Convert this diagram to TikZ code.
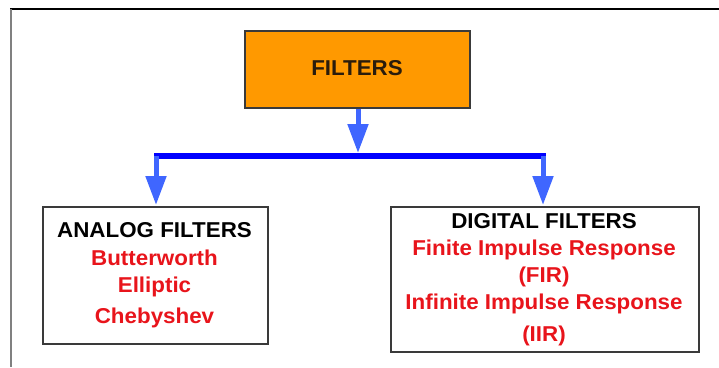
\documentclass[tikz,border=0pt]{standalone}
\usepackage{fontspec}
\setmainfont{Liberation Sans}
\usetikzlibrary{arrows.meta}
\definecolor{boxorange}{HTML}{FF9900}
\definecolor{edgegray}{HTML}{3A3A3A}
\definecolor{framegray}{HTML}{808080}
\definecolor{barblue}{HTML}{0000FF}
\definecolor{arrowblue}{HTML}{3F66FF}
\definecolor{itemred}{HTML}{E8141B}
\definecolor{titledark}{HTML}{2A1C0C}
\begin{document}
\begin{tikzpicture}[x=1pt,y=-1pt,
  panel/.style={draw=edgegray,line width=1.5pt,inner sep=0pt,anchor=north west},
  heading/.style={font=\fontsize{21.5}{25}\selectfont\bfseries,text=black,anchor=base,inner sep=0pt,xscale=1.04},
  item/.style={font=\fontsize{21.5}{25}\selectfont\bfseries,text=itemred,anchor=base,inner sep=0pt,xscale=1.04},
  flow/.style={draw=arrowblue,line width=5pt,-{Triangle[width=20pt,length=29pt]}},
  bus/.style={draw=barblue,line width=6pt}]
  \useasboundingbox (0,0) rectangle (719,367);
  % outer frame
  \draw[black,line width=1.5pt] (10,9) -- (719,9);
  \draw[framegray,line width=2pt] (10.5,9) -- (10.5,367);

  % root box
  \node[panel,fill=boxorange,minimum width=225pt,minimum height=77pt] (filters) at (244,30) {};
  \node[heading,text=titledark] (filtersText) at (357,75) {FILTERS};

  % child boxes
  \node[panel,minimum width=225pt,minimum height=137pt] (analog) at (42,206) {};
  \node[panel,minimum width=308pt,minimum height=145pt] (digital) at (390,206) {};

  % analog contents
  \node[heading] (analogTitle) at (154.5,237) {ANALOG FILTERS};
  \node[item] (butter) at (154.5,265) {Butterworth};
  \node[item] (ellip) at (154.5,292) {Elliptic};
  \node[item] (cheby) at (154.5,323) {Chebyshev};

  % digital contents
  \node[heading] (digitalTitle) at (544,228) {DIGITAL FILTERS};
  \node[item] (fir) at (544,255) {Finite Impulse Response};
  \node[item] (firAbbr) at (544,282) {(FIR)};
  \node[item] (iir) at (544,309) {Infinite Impulse Response};
  \node[item] (iirAbbr) at (544,341) {(IIR)};

  % distribution bus
  \coordinate (barL) at (154,156);
  \coordinate (barM) at (358,153);
  \coordinate (barR) at (546,156);
  \draw[bus] (barL) -- (barR);

  % arrows
  \draw[flow] (filters.south -| barM) -- (barM);
  \draw[flow] (156,156) -- (156,205);
  \draw[flow] (543,156) -- (543,205);
\end{tikzpicture}
\end{document}
